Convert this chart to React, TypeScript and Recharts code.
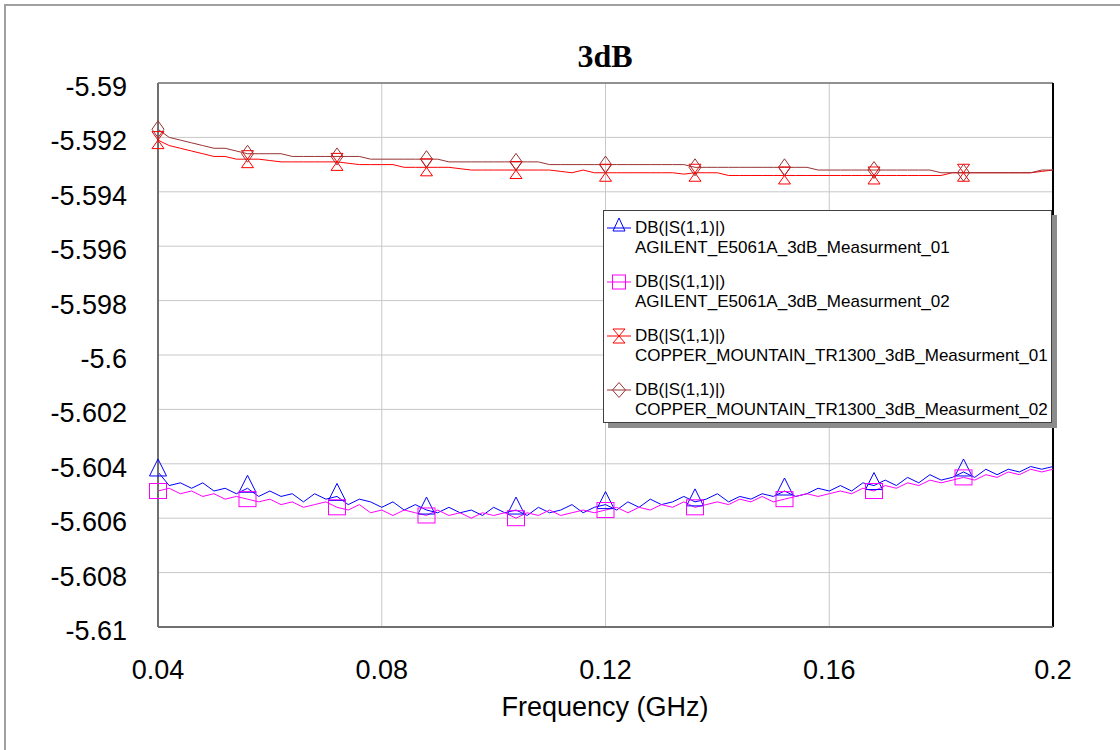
import React from "react";
import { LineChart, Line, XAxis, YAxis, CartesianGrid, ReferenceLine } from "recharts";

// frequency sweep (GHz)
const freq = [
  0.04, 0.042, 0.044, 0.046, 0.048, 0.05, 0.052, 0.054, 0.056, 0.058,
  0.06, 0.062, 0.064, 0.066, 0.068, 0.07, 0.072, 0.074, 0.076, 0.078,
  0.08, 0.082, 0.084, 0.086, 0.088, 0.09, 0.092, 0.094, 0.096, 0.098,
  0.1, 0.102, 0.104, 0.106, 0.108, 0.11, 0.112, 0.114, 0.116, 0.118,
  0.12, 0.122, 0.124, 0.126, 0.128, 0.13, 0.132, 0.134, 0.136, 0.138,
  0.14, 0.142, 0.144, 0.146, 0.148, 0.15, 0.152, 0.154, 0.156, 0.158,
  0.16, 0.162, 0.164, 0.166, 0.168, 0.17, 0.172, 0.174, 0.176, 0.178,
  0.18, 0.182, 0.184, 0.186, 0.188, 0.19, 0.192, 0.194, 0.196, 0.198,
  0.2,
];

const agilent01 = [
  -5.6043, -5.6048, -5.6047, -5.6049, -5.6047, -5.605, -5.6049, -5.6051, -5.6049, -5.6052,
  -5.605, -5.6052, -5.6051, -5.6054, -5.6051, -5.6053, -5.6052, -5.6055, -5.6053, -5.6054,
  -5.6056, -5.6054, -5.6057, -5.6055, -5.6057, -5.6058, -5.6056, -5.6058, -5.6057, -5.6059,
  -5.6056, -5.6058, -5.6057, -5.6059, -5.6056, -5.6058, -5.6057, -5.6055, -5.6058, -5.6056,
  -5.6055, -5.6057, -5.6054, -5.6056, -5.6053, -5.6055, -5.6054, -5.6052, -5.6054, -5.6053,
  -5.6051, -5.6054, -5.6052, -5.6053, -5.6051, -5.6052, -5.605, -5.6052, -5.6051, -5.6049,
  -5.605, -5.6048, -5.605, -5.6047, -5.6048, -5.6046, -5.6048, -5.6045, -5.6047, -5.6044,
  -5.6046, -5.6045, -5.6043, -5.6045, -5.6042, -5.6044, -5.6042, -5.6043, -5.6041, -5.6042,
  -5.6041,
];

const agilent02 = [
  -5.605, -5.6049, -5.6051, -5.605, -5.6052, -5.6051, -5.6053, -5.6052, -5.6053, -5.6054,
  -5.6053, -5.6055, -5.6054, -5.6056, -5.6055, -5.6054, -5.6056, -5.6057, -5.6055, -5.6058,
  -5.6057, -5.6059, -5.6057, -5.6058, -5.6059, -5.6057, -5.6059, -5.6058, -5.606, -5.6058,
  -5.6059, -5.6058, -5.606, -5.6058, -5.6059, -5.6057, -5.6059, -5.6058, -5.6057, -5.6058,
  -5.6057, -5.6056, -5.6058, -5.6056, -5.6057, -5.6055, -5.6056, -5.6054, -5.6056, -5.6055,
  -5.6054, -5.6055, -5.6053, -5.6054, -5.6052, -5.6054, -5.6053, -5.6052, -5.6051, -5.6052,
  -5.6051, -5.605, -5.6051, -5.6049, -5.605, -5.6048, -5.6049, -5.6047, -5.6048, -5.6046,
  -5.6047, -5.6046, -5.6045, -5.6046, -5.6044, -5.6045, -5.6043, -5.6044, -5.6042, -5.6043,
  -5.6042,
];

const copper01 = [
  -5.5921, -5.5923, -5.5924, -5.5925, -5.5926, -5.5927, -5.5927, -5.5928, -5.5928, -5.5928,
  -5.59285, -5.5929, -5.5929, -5.5929, -5.5929, -5.5929, -5.5929, -5.59295, -5.593, -5.593,
  -5.593, -5.593, -5.5931, -5.5931, -5.5931, -5.5931, -5.5931, -5.59315, -5.5932, -5.5932,
  -5.5932, -5.5932, -5.5932, -5.5932, -5.5932, -5.5932, -5.59325, -5.5933, -5.5932, -5.5933,
  -5.5933, -5.5933, -5.5933, -5.5933, -5.5933, -5.5933, -5.5933, -5.59335, -5.5933, -5.5933,
  -5.5933, -5.5934, -5.5934, -5.5934, -5.5934, -5.5934, -5.5934, -5.5934, -5.5934, -5.5934,
  -5.5934, -5.5934, -5.5934, -5.5934, -5.5934, -5.5934, -5.5934, -5.5934, -5.5934, -5.5934,
  -5.5934, -5.5933, -5.5933, -5.5933, -5.5933, -5.5933, -5.5933, -5.5933, -5.5933, -5.59325,
  -5.5932,
];

const copper02 = [
  -5.5917, -5.592, -5.5921, -5.5922, -5.5923, -5.5924, -5.5924, -5.5925, -5.5926, -5.5926,
  -5.5926, -5.5926, -5.5927, -5.5927, -5.5927, -5.5927, -5.5927, -5.5927, -5.5927, -5.5928,
  -5.5928, -5.5928, -5.5928, -5.5928, -5.5928, -5.5928, -5.5929, -5.5929, -5.5929, -5.5929,
  -5.5929, -5.5929, -5.5929, -5.5929, -5.5929, -5.593, -5.593, -5.593, -5.593, -5.593,
  -5.593, -5.593, -5.593, -5.593, -5.593, -5.593, -5.593, -5.593, -5.5931, -5.5931,
  -5.5931, -5.5931, -5.5931, -5.5931, -5.5931, -5.5931, -5.5931, -5.5931, -5.5931, -5.5932,
  -5.5932, -5.5932, -5.5932, -5.5932, -5.5932, -5.5932, -5.5932, -5.5932, -5.5932, -5.5932,
  -5.5933, -5.5933, -5.5933, -5.5933, -5.5933, -5.5933, -5.5933, -5.5933, -5.5933, -5.5932,
  -5.5932,
];

const markerFreqs = [0.04, 0.056, 0.072, 0.088, 0.104, 0.12, 0.136, 0.152, 0.168, 0.184];
const xTicks = [0.04, 0.08, 0.12, 0.16, 0.2];
const yTicks = [-5.61, -5.608, -5.606, -5.604, -5.602, -5.6, -5.598, -5.596, -5.594, -5.592, -5.59];

const seriesName = "DB(|S(1,1)|)";
const series = [
  { key: "a1", label: "AGILENT_E5061A_3dB_Measurment_01", color: "#0000ff", shape: "triangle" },
  { key: "a2", label: "AGILENT_E5061A_3dB_Measurment_02", color: "#ff00ff", shape: "square" },
  { key: "c1", label: "COPPER_MOUNTAIN_TR1300_3dB_Measurment_01", color: "#ff0000", shape: "hourglass" },
  { key: "c2", label: "COPPER_MOUNTAIN_TR1300_3dB_Measurment_02", color: "#993333", shape: "diamond" },
];

const data = freq.map((f, i) => ({
  freq: f,
  a1: agilent01[i],
  a2: agilent02[i],
  c1: copper01[i],
  c2: copper02[i],
}));

const SANS = "'Liberation Sans', Arial, sans-serif";

// w = width, up/down = extent above/below the point
function Marker({ shape, x, y, color, w, up, down }: any) {
  const hw = w / 2;
  if (shape === "triangle") {
    return (
      <polygon
        points={`${x - hw},${y + down} ${x + hw},${y + down} ${x},${y - up}`}
        fill="none"
        stroke={color}
        strokeWidth={1}
      />
    );
  }
  if (shape === "square") {
    return <rect x={x - hw} y={y - up} width={w} height={up + down} fill="none" stroke={color} strokeWidth={1} />;
  }
  if (shape === "hourglass") {
    return (
      <path
        d={`M${x - hw},${y - up} L${x + hw},${y - up} L${x - hw},${y + down} L${x + hw},${y + down} Z`}
        fill="none"
        stroke={color}
        strokeWidth={1}
      />
    );
  }
  return (
    <path
      d={`M${x},${y - up} L${x + hw},${y} L${x},${y + down} L${x - hw},${y} Z`}
      fill="none"
      stroke={color}
      strokeWidth={1}
    />
  );
}

const plotSize: Record<string, [number, number, number]> = {
  triangle: [17, 13, 4],
  square: [17, 7.5, 7.5],
  hourglass: [12, 8.5, 8.5],
  diamond: [12, 8.5, 8.5],
};

const legendSize: Record<string, [number, number, number]> = {
  triangle: [12, 10, 3],
  square: [13, 7, 7],
  hourglass: [12, 7, 7],
  diamond: [13, 7.5, 7.5],
};

const makeDot = (shape: string, color: string) => (props: any) => {
  const { cx, cy, payload, index } = props;
  const key = `${shape}-${index}`;
  if (!markerFreqs.some((m) => Math.abs(m - payload.freq) < 1e-6)) return <g key={key} />;
  const [w, up, down] = plotSize[shape];
  return (
    <g key={key}>
      <Marker shape={shape} x={cx} y={cy} color={color} w={w} up={up} down={down} />
    </g>
  );
};

const YTick = ({ x, y, payload }: any) => (
  <text x={x} y={y + 13} textAnchor="end" fontFamily={SANS} fontSize={27} fill="#000">
    {String(Number(payload.value.toFixed(3)))}
  </text>
);

const XTick = ({ x, y, payload }: any) => (
  <text x={x} y={y + 52} textAnchor="middle" fontFamily={SANS} fontSize={27} fill="#000">
    {String(payload.value)}
  </text>
);

function LegendBox() {
  return (
    <div
      style={{
        position: "absolute",
        left: 603,
        top: 210,
        width: 449,
        height: 213,
        boxSizing: "border-box",
        border: "1px solid #404040",
        background: "#fff",
        boxShadow: "5px 5px 0 #8c8c8c",
      }}
    >
      <svg width={447} height={211} style={{ display: "block" }}>
        {series.map((s, k) => {
          const cy = 17 + 54 * k;
          const [w, up, down] = legendSize[s.shape];
          return (
            <g key={s.key}>
              <line x1={3} x2={27} y1={cy} y2={cy} stroke={s.color} strokeWidth={1} />
              <Marker shape={s.shape} x={15} y={cy} color={s.color} w={w} up={up} down={down} />
              <text x={31} y={cy + 5} fontFamily={SANS} fontSize={17} fill="#000">
                {seriesName}
              </text>
              <text x={31} y={cy + 25} fontFamily={SANS} fontSize={17} fill="#000">
                {s.label}
              </text>
            </g>
          );
        })}
      </svg>
    </div>
  );
}

export default function App() {
  return (
    <div style={{ position: "absolute", left: 0, top: 0, width: 1120, height: 750, background: "#fff", overflow: "hidden" }}>
      <div
        style={{
          position: "absolute",
          left: 4,
          top: 4,
          width: 1200,
          height: 800,
          borderLeft: "2px solid #a0a0a0",
          borderTop: "2px solid #a0a0a0",
        }}
      />
      <svg width={1120} height={750} style={{ position: "absolute", left: 0, top: 0 }}>
        <text x={605} y={67} textAnchor="middle" fontFamily="'Liberation Serif', 'Times New Roman', serif" fontWeight="bold" fontSize={32}>
          3dB
        </text>
        <text x={605} y={716} textAnchor="middle" fontFamily={SANS} fontSize={27}>
          Frequency (GHz)
        </text>
      </svg>
      <div style={{ position: "absolute", left: 0, top: 0 }}>
        <LineChart width={1120} height={750} data={data} margin={{ top: 83, right: 67, left: 0, bottom: 0 }}>
          <CartesianGrid stroke="#c8c8c8" strokeWidth={1} />
          <XAxis
            dataKey="freq"
            type="number"
            domain={[0.04, 0.2]}
            ticks={xTicks}
            height={123}
            tickSize={0}
            tickMargin={0}
            tickLine={false}
            axisLine={{ stroke: "#707070", strokeWidth: 2 }}
            tick={<XTick />}
            interval={0}
          />
          <YAxis
            type="number"
            domain={[-5.61, -5.59]}
            ticks={yTicks}
            width={158}
            tickSize={0}
            tickMargin={31}
            tickLine={false}
            axisLine={{ stroke: "#707070", strokeWidth: 2 }}
            tick={<YTick />}
            interval={0}
            allowDataOverflow
          />
          <ReferenceLine y={-5.59} stroke="#404040" strokeWidth={1} />
          <ReferenceLine x={0.2} stroke="#000" strokeWidth={2} />
          {series.map((s) => (
            <Line
              key={s.key}
              dataKey={s.key}
              type="linear"
              stroke={s.color}
              strokeWidth={1}
              dot={makeDot(s.shape, s.color)}
              activeDot={false}
              isAnimationActive={false}
            />
          ))}
        </LineChart>
      </div>
      <LegendBox />
    </div>
  );
}
